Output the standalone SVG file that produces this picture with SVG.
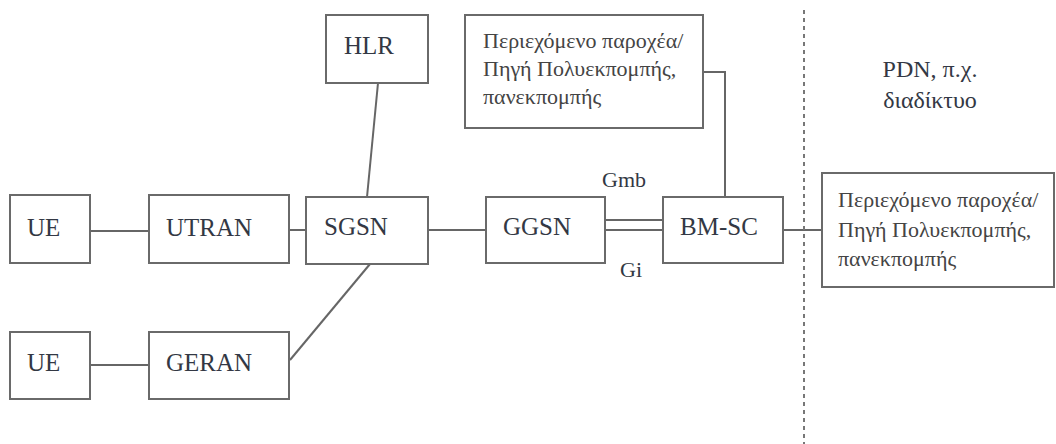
<svg xmlns="http://www.w3.org/2000/svg" width="1056" height="444" viewBox="0 0 1056 444">
  <style>
    .box { fill: #ffffff; stroke: #6a6a6a; stroke-width: 2; }
    .link { fill: none; stroke: #666666; stroke-width: 2; }
    .lbl { font-family: "Liberation Serif", serif; font-size: 25px; fill: #333844; }
    .iface { font-family: "Liberation Serif", serif; font-size: 22px; fill: #333844; }
  </style>
  <rect width="1056" height="444" fill="#ffffff"/>

  <!-- connectors -->
  <g id="connectors">
    <line class="link" x1="90" y1="231" x2="149" y2="231"/>
    <line class="link" x1="90" y1="365" x2="149" y2="365"/>
    <line class="link" x1="289" y1="230" x2="306" y2="230"/>
    <line class="link" x1="378" y1="83" x2="367" y2="197"/>
    <line class="link" x1="370" y1="264" x2="290" y2="360"/>
    <line class="link" x1="428" y1="230" x2="486" y2="230"/>
    <line class="link" x1="605" y1="220" x2="663" y2="220"/>
    <line class="link" x1="605" y1="230" x2="663" y2="230"/>
    <polyline class="link" points="703,72 725,72 725,197"/>
    <line class="link" x1="783" y1="230" x2="822" y2="230"/>
    <line x1="804" y1="10" x2="804" y2="444" stroke="#777777" stroke-width="2" stroke-dasharray="4,4"/>
  </g>

  <!-- interface labels -->
  <text class="iface" x="602" y="187">Gmb</text>
  <text class="iface" x="620" y="277">Gi</text>

  <g id="ue1">
    <rect class="box" x="10" y="195" width="80" height="68"/>
    <text class="lbl" x="27" y="236">UE</text>
  </g>
  <g id="utran">
    <rect class="box" x="149" y="195" width="140" height="68"/>
    <text class="lbl" x="166" y="236">UTRAN</text>
  </g>
  <g id="ue2">
    <rect class="box" x="10" y="332" width="80" height="67"/>
    <text class="lbl" x="27" y="371">UE</text>
  </g>
  <g id="geran">
    <rect class="box" x="149" y="332" width="140" height="67"/>
    <text class="lbl" x="166" y="371">GERAN</text>
  </g>
  <g id="hlr">
    <rect class="box" x="326" y="15" width="102" height="68"/>
    <text class="lbl" x="344" y="54">HLR</text>
  </g>
  <g id="sgsn">
    <rect class="box" x="306" y="197" width="122" height="67"/>
    <text class="lbl" x="324" y="235">SGSN</text>
  </g>
  <g id="ggsn">
    <rect class="box" x="486" y="197" width="119" height="66"/>
    <text class="lbl" x="503" y="235">GGSN</text>
  </g>
  <g id="bmsc">
    <rect class="box" x="663" y="197" width="120" height="66"/>
    <text class="lbl" x="680" y="235">BM-SC</text>
  </g>
  <g id="content-top">
    <rect class="box" x="465" y="15" width="238" height="113"/>
    <g font-family="'Times New Roman', serif" font-size="22" fill="#444444">
      <text x="483" y="48">Περιεχόμενο παροχέα/</text>
      <text x="483" y="76">Πηγή Πολυεκπομπής,</text>
      <text x="483" y="104">πανεκπομπής</text>
    </g>
  </g>
  <g id="content-pdn">
    <rect class="box" x="822" y="173" width="232" height="114"/>
    <g font-family="serif" font-size="22" fill="#444444">
      <text x="838" y="207">Περιεχόμενο παροχέα/</text>
      <text x="838" y="237">Πηγή Πολυεκπομπής,</text>
      <text x="838" y="266">πανεκπομπής</text>
    </g>
  </g>
  <g id="pdn">
    <g font-family="'Liberation Serif', serif" font-size="24" fill="#333844">
      <text x="930" y="77" text-anchor="middle">PDN, π.χ.</text>
      <text x="930" y="108" text-anchor="middle">διαδίκτυο</text>
    </g>
  </g>
</svg>
